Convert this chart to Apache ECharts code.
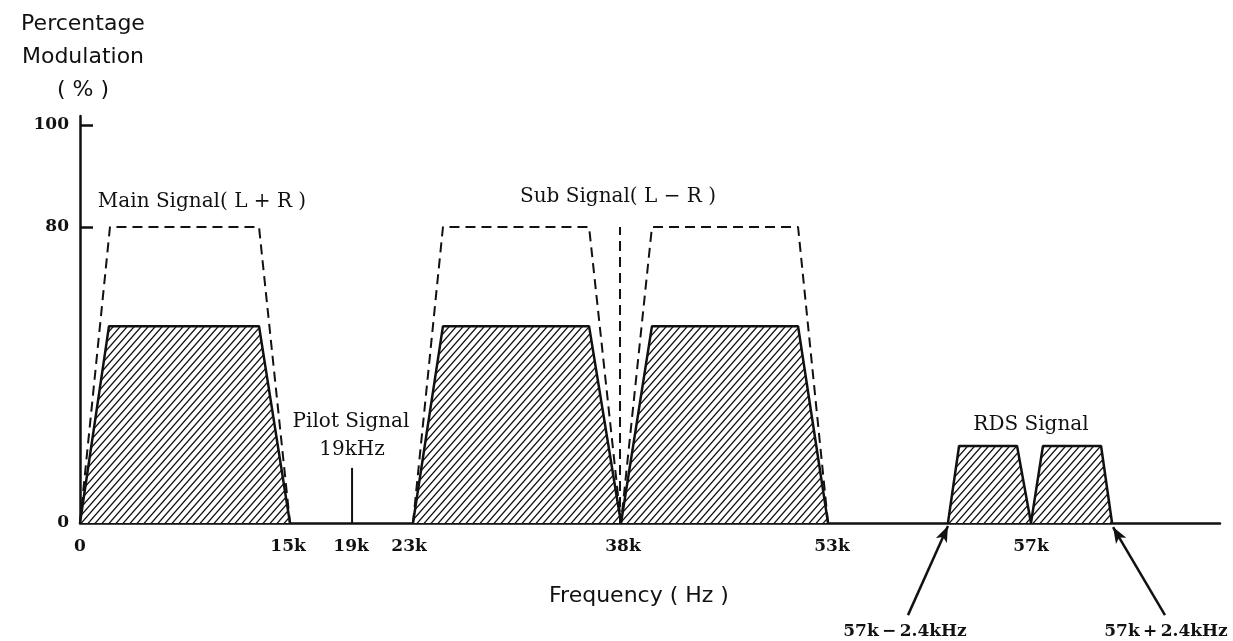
<!DOCTYPE html>
<html>
<head>
<meta charset="utf-8">
<script src="https://cdn.jsdelivr.net/npm/echarts@6/dist/echarts.min.js"></script>
<style>
html,body{margin:0;padding:0;background:#fff;}
#chart{width:1233px;height:641px;}
</style>
</head>
<body>
<div id="chart"></div>
<script>
// Diagram units: the drawing is schematic (not to scale); x in "diagram kHz", y in "diagram %"
const mainHatchX = [0, 2.06, 12.72, 14.92];
const mainHatchY = [0, 53.2, 53.2, 0];
const mainEnvX = [0, 2.13, 12.72, 14.92];
const mainEnvY = [0, 80, 80, 0];
const subHatchX = [23.66, 25.79, 36.17, 38.44, 40.64, 51.02, 53.15];
const subHatchY = [0, 53.2, 53.2, 0, 53.2, 53.2, 0];
const subEnvX = [23.66, 25.79, 36.17, 38.44, 40.64, 51.02, 53.15];
const subEnvY = [0, 80, 80, 0, 80, 80, 0];
const carrierX = [38.37, 38.37];
const carrierY = [0, 80];
const pilotX = [19.33, 19.33];
const pilotY = [0, 14.9];
const rdsX = [61.67, 62.46, 66.58, 67.57, 68.42, 72.55, 73.33];
const rdsY = [0, 20.8, 20.8, 0, 20.8, 20.8, 0];
const xTickValues = [0, 14.78, 19.26, 23.38, 38.58, 53.43, 67.57];
const xTickLabels = ['0', '15k', '19k', '23k', '38k', '53k', '57k'];
const yTickValues = [0, 80, 107.6];
const yTickLabels = ['0', '80', '100'];
const arrowLeft = [[58.83, -24.9], [61.67, -0.8]];
const arrowRight = [[77.09, -24.9], [73.40, -1.1]];

function pairs(xs, ys) { return xs.map((x, i) => [x, ys[i]]); }

// hatch pattern "///"
function makeHatch() {
  const w = 7, h = 8;
  const c = document.createElement('canvas');
  c.width = w; c.height = h;
  const g = c.getContext('2d');
  g.fillStyle = '#fff';
  g.fillRect(0, 0, w, h);
  g.strokeStyle = '#111';
  g.lineWidth = 1.3;
  g.beginPath();
  for (let n = 0; n <= 2; n++) {
    g.moveTo(-w, (n + 1) * h);
    g.lineTo(2 * w, (n - 2) * h);
  }
  g.stroke();
  return c;
}
const hatch = { image: makeHatch(), repeat: 'repeat' };

const serif = '"DejaVu Serif", serif';
const sans = '"DejaVu Sans", "Open Sans", sans-serif';

function hatchSeries(xs, ys) {
  return {
    type: 'line', data: pairs(xs, ys), symbol: 'none', z: 2,
    lineStyle: { color: '#111', width: 2.5 },
    areaStyle: { color: hatch, opacity: 1 }
  };
}
function dashSeries(xs, ys) {
  return {
    type: 'line', data: pairs(xs, ys), symbol: 'none', z: 3,
    lineStyle: { color: '#111', width: 2, type: [10, 6] }
  };
}
function txt(x, y, text, font) {
  return { type: 'text', x: x, y: y, style: { text: text, font: font, fill: '#111', align: 'center', verticalAlign: 'middle', lineHeight: 33 } };
}

const chart = echarts.init(document.getElementById('chart'), null, { renderer: 'canvas' });
const option = {
  animation: false,
  backgroundColor: '#fff',
  grid: { left: 80, right: 13, top: 116, bottom: 118 },
  xAxis: {
    type: 'value', min: 0, max: 81,
    axisLine: { show: true, lineStyle: { color: '#111', width: 2.5 } },
    axisTick: { show: false },
    splitLine: { show: false },
    axisLabel: {
      customValues: xTickValues,
      formatter: v => { const i = xTickValues.indexOf(v); return i >= 0 ? xTickLabels[i] : ''; },
      color: '#111', fontFamily: serif, fontWeight: 'bold', fontSize: 17, margin: 15
    }
  },
  yAxis: {
    type: 'value', min: 0, max: 110,
    axisLine: { show: true, lineStyle: { color: '#111', width: 2.5 } },
    axisTick: { show: true, inside: true, length: 13, customValues: [80, 107.6], lineStyle: { color: '#111', width: 2.5 } },
    splitLine: { show: false },
    axisLabel: {
      customValues: yTickValues,
      formatter: v => { const i = yTickValues.indexOf(v); return i >= 0 ? yTickLabels[i] : ''; },
      color: '#111', fontFamily: serif, fontWeight: 'bold', fontSize: 17, margin: 11
    }
  },
  series: [
    hatchSeries(mainHatchX, mainHatchY),
    hatchSeries(subHatchX, subHatchY),
    hatchSeries(rdsX, rdsY),
    dashSeries(mainEnvX, mainEnvY),
    dashSeries(subEnvX, subEnvY),
    dashSeries(carrierX, carrierY),
    {
      id: 'pilot',
      type: 'line', data: pairs(pilotX, pilotY), symbol: 'none', z: 3, clip: false,
      lineStyle: { color: '#111', width: 2 }
    }
  ],
  graphic: [
    txt(83, 57, 'Percentage\nModulation\n( % )', '22px ' + sans),
    txt(202, 202, 'Main Signal( L + R )', '20px ' + serif),
    txt(618, 197, 'Sub Signal( L \u2212 R )', '20px ' + serif),
    txt(351, 422, 'Pilot Signal', '20px ' + serif),
    txt(352, 450, '19kHz', '20px ' + serif),
    txt(1031, 425, 'RDS Signal', '20px ' + serif),
    txt(639, 596, 'Frequency ( Hz )', '22px ' + sans),
    txt(905, 632, '57k\u2009\u2212\u20092.4kHz', 'bold 17px ' + serif),
    txt(1166, 632, '57k\u2009+\u20092.4kHz', 'bold 17px ' + serif)
  ]
};
chart.setOption(option);

// arrows pointing to the RDS band edges (coordinates lie below the plotted range, so convert to pixels)
function px(c) { const p = chart.convertToPixel({ gridIndex: 0 }, c); return { x: p[0], y: p[1] }; }
chart.setOption({
  series: [{
    id: 'pilot',
    markLine: {
      silent: true, animation: false,
      symbol: ['none', 'arrow'], symbolSize: [9, 16],
      lineStyle: { color: '#111', width: 2.5, type: 'solid' },
      label: { show: false },
      data: [
        [px(arrowLeft[0]), px(arrowLeft[1])],
        [px(arrowRight[0]), px(arrowRight[1])]
      ]
    }
  }]
});
</script>
</body>
</html>
